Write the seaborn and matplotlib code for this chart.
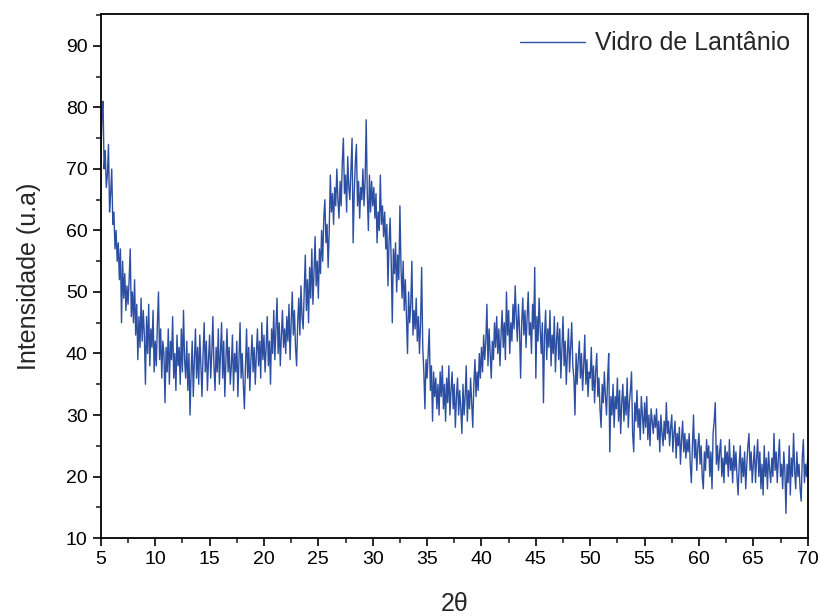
"""
XRD pattern of the lanthanum glass (Vidro de Lantânio).
"""
import numpy as np
import pandas as pd
import seaborn as sns
import matplotlib.pyplot as plt
from matplotlib.ticker import MultipleLocator

#--------------------------
# DATA (step 0.1 deg)
#--------------------------
scan_start = 5.0
scan_step = 0.1

int_05_10 = [71, 79, 81, 70, 73, 67, 69, 74, 63, 66,
             70, 61, 63, 57, 60, 55, 58, 52, 57, 45,
             55, 49, 53, 47, 51, 48, 52, 57, 46, 50,
             45, 52, 43, 48, 39, 46, 41, 49, 42, 47,
             43, 35, 46, 40, 48, 38, 44, 41, 47, 37]
int_10_15 = [42, 38, 45, 50, 39, 44, 36, 42, 40, 32,
             41, 37, 44, 35, 42, 39, 46, 36, 40, 34,
             43, 38, 41, 35, 44, 37, 47, 39, 36, 42,
             34, 40, 30, 37, 42, 33, 39, 44, 36, 41,
             35, 43, 38, 33, 40, 45, 37, 42, 34, 39]
int_15_20 = [43, 36, 40, 46, 38, 34, 41, 37, 44, 35,
             40, 45, 36, 42, 33, 39, 44, 37, 41, 35,
             38, 43, 34, 40, 37, 42, 33, 39, 45, 36,
             40, 35, 31, 38, 44, 36, 41, 34, 39, 43,
             37, 41, 35, 40, 44, 38, 42, 36, 45, 39]
int_20_25 = [43, 37, 41, 46, 38, 42, 35, 44, 40, 47,
             39, 44, 49, 40, 45, 38, 43, 47, 41, 44,
             40, 46, 42, 48, 39, 45, 50, 43, 47, 41,
             38, 45, 49, 43, 51, 46, 44, 50, 56, 47,
             52, 45, 54, 49, 57, 48, 53, 59, 51, 55]
int_25_30 = [49, 57, 53, 60, 55, 62, 65, 58, 61, 54,
             60, 69, 63, 66, 61, 67, 64, 70, 65, 62,
             68, 64, 71, 75, 66, 69, 63, 72, 67, 65,
             70, 75, 58, 66, 71, 74, 64, 68, 62, 67,
             65, 70, 64, 68, 78, 66, 60, 69, 63, 68]
int_30_35 = [64, 67, 62, 66, 58, 63, 60, 69, 61, 64,
             59, 63, 57, 61, 51, 58, 62, 55, 45, 57,
             53, 58, 50, 56, 52, 64, 54, 49, 55, 47,
             52, 46, 40, 50, 45, 48, 55, 43, 47, 44,
             49, 42, 46, 40, 45, 54, 41, 37, 31, 39]
int_35_40 = [36, 40, 44, 34, 38, 29, 37, 33, 36, 31,
             35, 30, 37, 33, 38, 31, 35, 29, 36, 32,
             38, 30, 34, 37, 31, 35, 28, 33, 36, 30,
             34, 31, 27, 35, 30, 33, 38, 29, 34, 31,
             36, 32, 28, 35, 39, 33, 37, 34, 40, 36]
int_40_45 = [41, 37, 43, 39, 42, 48, 38, 44, 40, 36,
             42, 39, 45, 41, 46, 40, 44, 38, 43, 47,
             41, 45, 39, 50, 43, 47, 40, 45, 42, 48,
             44, 51, 46, 42, 48, 44, 36, 45, 49, 43,
             47, 41, 46, 50, 43, 45, 40, 48, 44, 54]
int_45_50 = [36, 46, 42, 49, 44, 40, 45, 32, 43, 47,
             39, 44, 41, 47, 38, 43, 40, 46, 37, 42,
             45, 39, 44, 36, 41, 46, 38, 42, 35, 40,
             44, 37, 41, 45, 38, 36, 30, 40, 35, 39,
             42, 36, 40, 34, 38, 43, 35, 39, 33, 37]
int_50_55 = [36, 41, 34, 38, 32, 37, 40, 33, 36, 31,
             28, 35, 32, 37, 33, 30, 36, 40, 24, 33,
             30, 35, 28, 33, 31, 36, 29, 34, 27, 32,
             35, 29, 33, 30, 36, 28, 32, 34, 37, 27,
             24, 32, 29, 34, 28, 31, 26, 33, 30, 27]
int_55_60 = [32, 28, 33, 26, 30, 25, 31, 29, 27, 30,
             28, 31, 26, 29, 24, 30, 27, 25, 29, 26,
             32, 27, 29, 25, 28, 30, 24, 27, 29, 23,
             27, 25, 28, 22, 26, 29, 24, 27, 23, 26,
             24, 27, 22, 19, 25, 30, 23, 26, 21, 25]
int_60_65 = [27, 22, 25, 20, 18, 24, 21, 26, 23, 25,
             20, 24, 18, 27, 29, 32, 22, 25, 21, 24,
             26, 20, 23, 19, 25, 22, 24, 20, 26, 21,
             23, 19, 25, 21, 24, 20, 17, 22, 25, 19,
             23, 20, 24, 18, 22, 25, 27, 21, 24, 19]
int_65_70 = [22, 25, 19, 23, 26, 20, 24, 18, 22, 17,
             25, 20, 23, 18, 24, 21, 19, 23, 20, 27,
             21, 24, 19, 23, 26, 20, 22, 18, 24, 21,
             14, 22, 19, 25, 17, 23, 20, 27, 21, 18,
             24, 20, 22, 18, 16, 23, 26, 19, 22, 20,
             23]

intensity = (int_05_10 + int_10_15 + int_15_20 + int_20_25 + int_25_30
             + int_30_35 + int_35_40 + int_40_45 + int_45_50 + int_50_55
             + int_55_60 + int_60_65 + int_65_70)
two_theta = scan_start + scan_step * np.arange(len(intensity))

xrd = pd.DataFrame({"2theta": two_theta, "I": intensity,
                    "amostra": "Vidro de Lantânio"})

#--------------------------
# PLOT
#--------------------------
sns.set_style("ticks")
plt.rcParams['font.family'] = ['Liberation Sans', 'DejaVu Sans']

fig = plt.figure(figsize=(8.2, 6.16), dpi=100)
ax = fig.add_axes([0.123, 0.1266, 0.862, 0.8507])

sns.lineplot(data=xrd, x="2theta", y="I", hue="amostra",
             palette=["#2d4fa1"], linewidth=1.0, ax=ax)

ax.set_xlim(5, 70)
ax.set_ylim(10, 95.2)
ax.xaxis.set_major_locator(MultipleLocator(5))
ax.xaxis.set_minor_locator(MultipleLocator(2.5))
ax.yaxis.set_major_locator(MultipleLocator(10))
ax.yaxis.set_minor_locator(MultipleLocator(5))
ax.set_yticks(range(10, 100, 10))
ax.tick_params(which="major", direction="out", length=6, width=1.2,
               labelsize=14, colors="black")
ax.tick_params(which="minor", direction="out", length=3.5, width=1.2)
for side in ax.spines.values():
    side.set_linewidth(1.3)
    side.set_color("black")

ax.set_xlabel("2θ", fontsize=18, labelpad=17)
ax.set_ylabel("Intensidade (u.a)", fontsize=18, labelpad=18)

ax.legend(loc="upper right", frameon=False, fontsize=18,
          handlelength=2.6, handletextpad=0.4, borderaxespad=0.3)

plt.savefig("out.png", dpi=100)
